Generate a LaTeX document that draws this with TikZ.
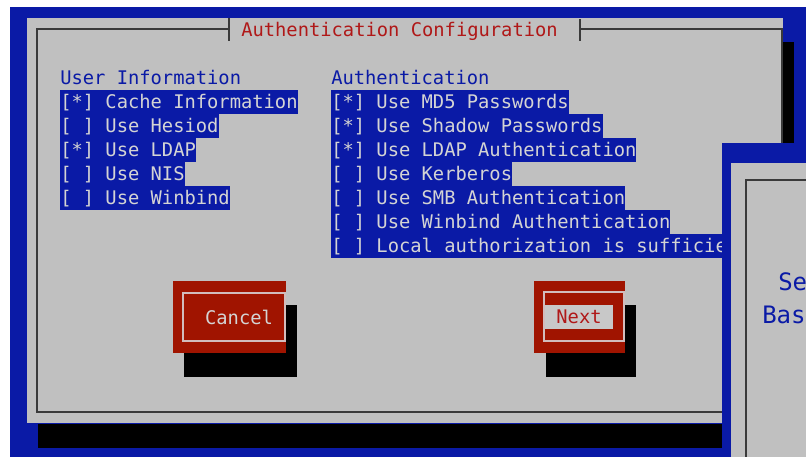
\documentclass[tikz,border=0pt]{standalone}
\usepackage{fontspec}
\setmonofont{DejaVu Sans Mono}
\definecolor{tuiblue}{HTML}{0A1AA6}
\definecolor{tuigray}{HTML}{C0C0C0}
\definecolor{tuired}{HTML}{A01400}
\definecolor{titlered}{HTML}{B01818}
\definecolor{hltext}{HTML}{D4D4D4}
\definecolor{framecol}{HTML}{3A3A3A}
\definecolor{btnframe}{HTML}{D2BCBC}
\definecolor{focusbox}{HTML}{C8C8C8}
\tikzset{
  term/.style={font=\ttfamily\fontsize{14.08pt}{17pt}\selectfont, inner sep=0pt, anchor=west, text height=10.3pt, text depth=0pt},
  hdr/.style={term, text=tuiblue},
  item/.style={term, fill=tuiblue, text=hltext, minimum height=18pt},
  ttl/.style={term, text=titlered},
  frameline/.style={draw=framecol, line width=1.2pt},
  shadow/.style={fill=black},
  btnred/.style={fill=tuired},
  btnrim/.style={draw=btnframe, line width=1.5pt},
  btntext/.style={font=\ttfamily\fontsize{14.08pt}{17pt}\selectfont, inner sep=0pt, text height=10.3pt, text depth=0pt},
  bigtext/.style={font=\ttfamily\fontsize{18pt}{22pt}\selectfont, inner sep=0pt, anchor=west, text=tuiblue, text height=13.2pt, text depth=0pt}
}
\begin{document}
\begin{tikzpicture}[x=0.75pt,y=-0.75pt]
\useasboundingbox (0,0) rectangle (806,457);
\clip (0,0) rectangle (806,457);
% background
\fill[white] (0,0) rectangle (806,457);
\fill[tuiblue] (10,7) rectangle (806,457);
% main dialog shadows
\fill[shadow] (783,42) rectangle (794,143);
\fill[shadow] (38,424) rectangle (722,448);
% main dialog body
\fill[tuigray] (27,18) rectangle (783,423);
% frame
\draw[frameline] (229,29) -- (37,29) -- (37,412) -- (782,412) -- (782,29) -- (580,29);
\draw[frameline] (229,18) -- (229,41);
\draw[frameline] (580,19) -- (580,41);
\node[ttl] (title) at (241,30) {Authentication Configuration};
% user information column
\node[hdr] (uihdr) at (60,78) {User Information};
\node[item] (ui1) at (60,102) {[*] Cache Information};
\node[item] (ui2) at (60,126) {[ ] Use Hesiod};
\node[item] (ui3) at (60,150) {[*] Use LDAP};
\node[item] (ui4) at (60,174) {[ ] Use NIS};
\node[item] (ui5) at (60,198) {[ ] Use Winbind};
% authentication column
\node[hdr] (auhdr) at (331,78) {Authentication};
\node[item] (au1) at (331,102) {[*] Use MD5 Passwords};
\node[item] (au2) at (331,126) {[*] Use Shadow Passwords};
\node[item] (au3) at (331,150) {[*] Use LDAP Authentication};
\node[item] (au4) at (331,174) {[ ] Use Kerberos};
\node[item] (au5) at (331,198) {[ ] Use SMB Authentication};
\node[item] (au6) at (331,222) {[ ] Use Winbind Authentication};
\node[item] (au7) at (331,246) {[ ] Local authorization is sufficie};
% Cancel button
\fill[shadow] (184,305) rectangle (297,377);
\fill[btnred] (173,281) rectangle (286,353);
\draw[btnrim] (183,293) rectangle (285,341);
\node[btntext, text=hltext] (cancel) at (239,318) {Cancel};
% Next button
\fill[shadow] (546,305) rectangle (636,377);
\fill[btnred] (534,281) rectangle (625,353);
\draw[btnrim] (544,292) rectangle (624,341);
\fill[focusbox] (545,305) rectangle (613,329);
\node[btntext, text=titlered] (next) at (579,317) {Next};
% second window (overlapping)
\fill[tuiblue] (722,143) rectangle (806,457);
\fill[tuigray] (731,163) rectangle (806,457);
\draw[frameline] (806,180) -- (746,180) -- (746,457);
\node[bigtext] (se) at (778,282) {Se};
\node[bigtext] (bas) at (762,315) {Bas};
\end{tikzpicture}
\end{document}
